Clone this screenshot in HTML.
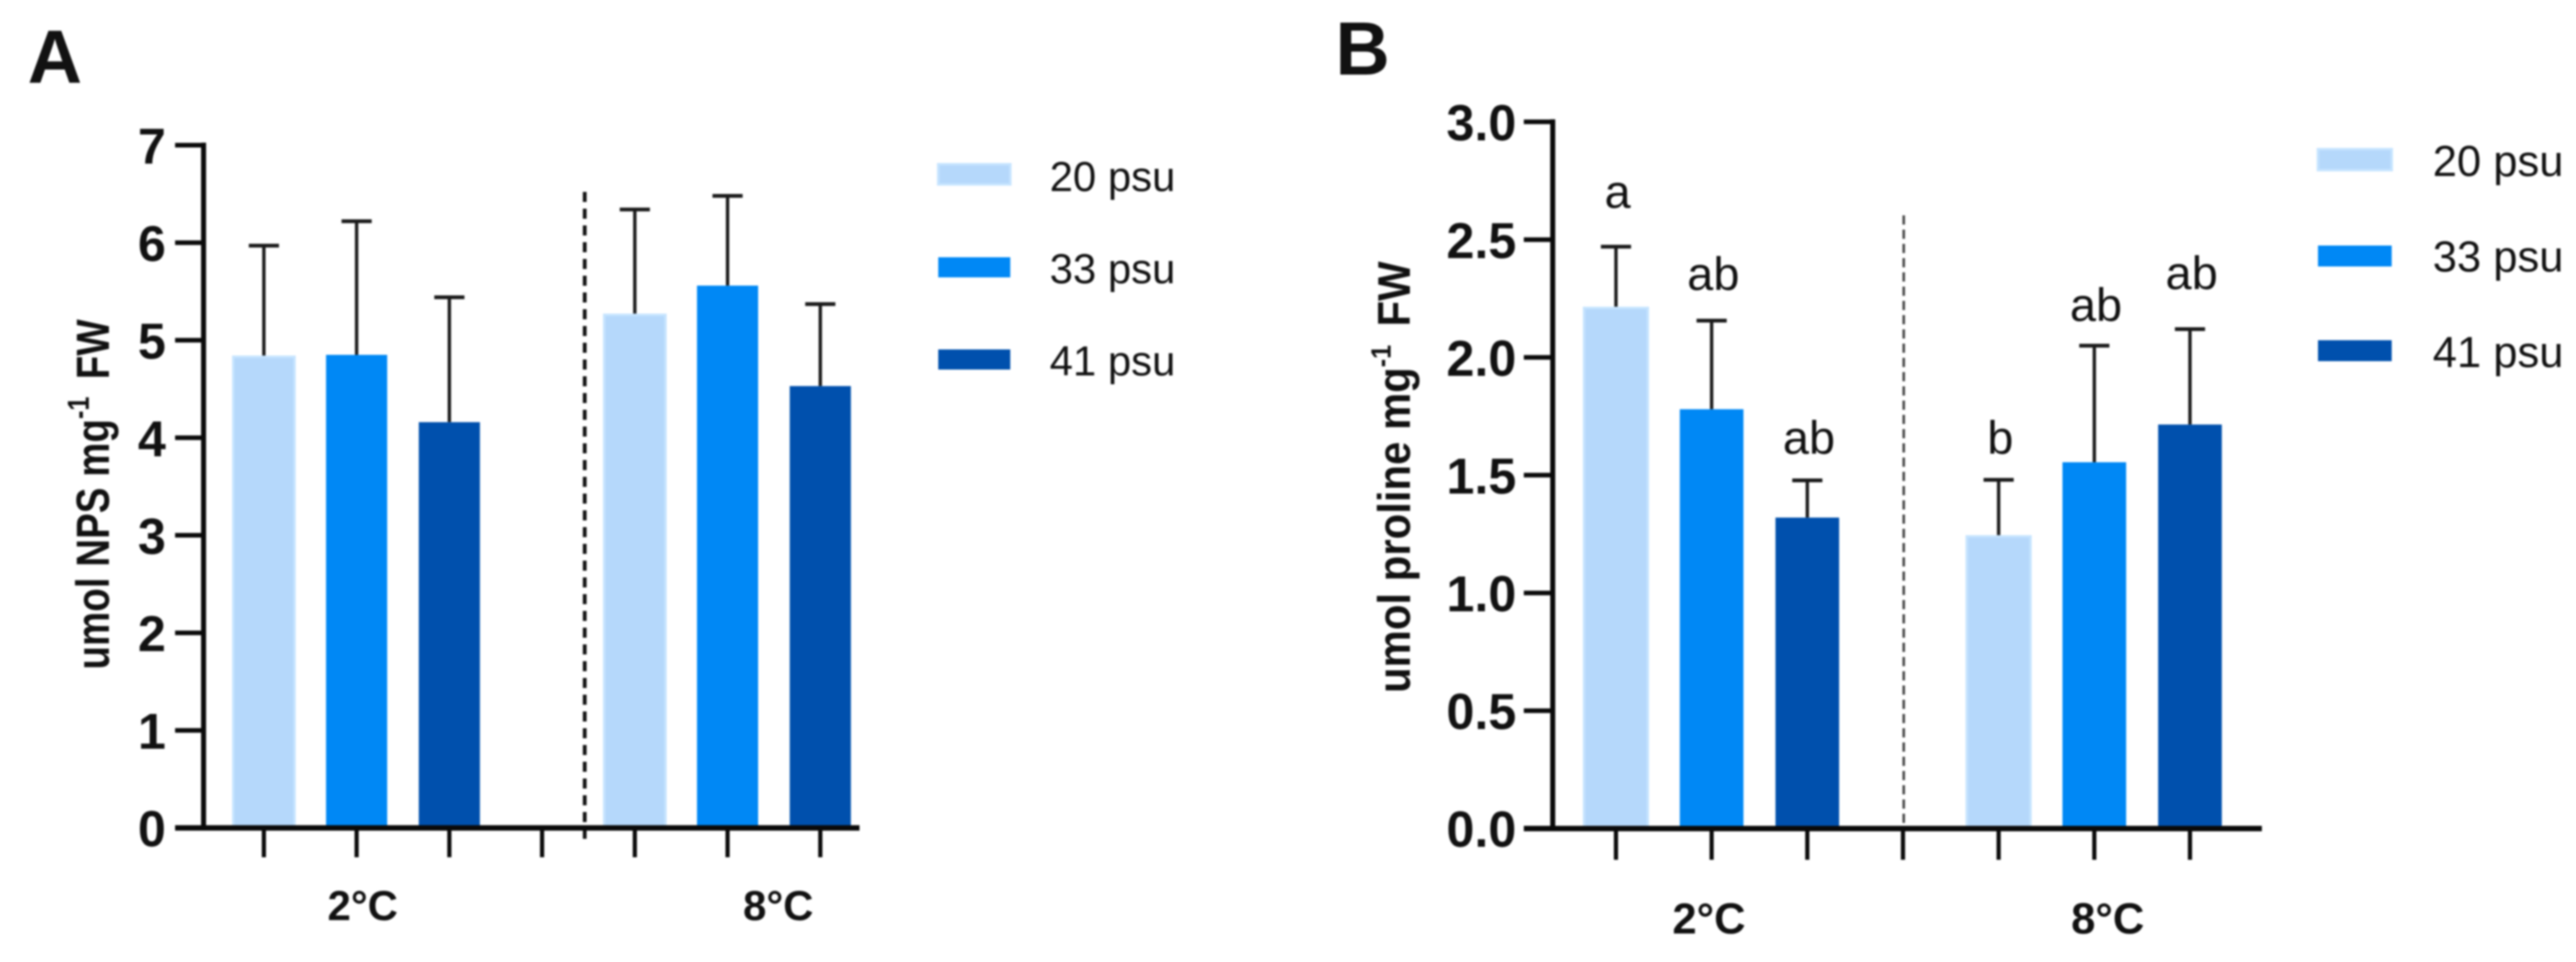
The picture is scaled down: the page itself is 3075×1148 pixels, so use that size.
<!DOCTYPE html>
<html lang="en">
<head>
<meta charset="utf-8">
<title>NPS and proline bar charts</title>
<style>
html,body{margin:0;padding:0;background:#fff;width:3075px;height:1148px;overflow:hidden}
svg{display:block;filter:blur(1px)}
text{font-family:"Liberation Sans",Arial,sans-serif;fill:#111}
</style>
</head>
<body>
<svg id="figure" xmlns="http://www.w3.org/2000/svg" width="3075" height="1148" viewBox="0 0 3075 1148"></svg>
<script>
// Shared data
const seriesNames = ['20 psu', '33 psu', '41 psu'];
const groupLabels = ['2°C', '8°C'];
const seriesColors = ['#B5D8FB', '#0088F5', '#0050AD'];

// Panel A: order is [2°C, 8°C]
const npsMeans20 = [4.83, 5.26];
const npsMeans33 = [4.85, 5.56];
const npsMeans41 = [4.16, 4.53];
const npsTops20 = [5.97, 6.34];
const npsTops33 = [6.22, 6.48];
const npsTops41 = [5.44, 5.37];
const npsTicks = ['0', '1', '2', '3', '4', '5', '6', '7'];

// Panel B: order is [2°C, 8°C]
const prolineMeans20 = [2.21, 1.24];
const prolineMeans33 = [1.78, 1.555];
const prolineMeans41 = [1.32, 1.715];
const prolineTops20 = [2.47, 1.48];
const prolineTops33 = [2.156, 2.05];
const prolineTops41 = [1.478, 2.12];
const prolineTicks = ['0.0', '0.5', '1.0', '1.5', '2.0', '2.5', '3.0'];
const prolineLetters20 = ['a', 'b'];
const prolineLetters33 = ['ab', 'ab'];
const prolineLetters41 = ['ab', 'ab'];
// Height of each significance letter, in y-axis units
const prolineLetterLevels20 = [2.635, 1.591];
const prolineLetterLevels33 = [2.287, 2.155];
const prolineLetterLevels41 = [1.591, 2.29];

const svg = document.getElementById('figure');
const NS = 'http://www.w3.org/2000/svg';

function make(tag, attrs, parent) {
  const el = document.createElementNS(NS, tag);
  for (const k in attrs) el.setAttribute(k, attrs[k]);
  parent.appendChild(el);
  return el;
}

function line(parent, x1, y1, x2, y2, w, color) {
  return make('line', {x1: x1, y1: y1, x2: x2, y2: y2, stroke: color || '#0a0a0a', 'stroke-width': w}, parent);
}

function drawPanel(p) {
  const g = make('g', {}, svg);
  
  

  const maxValue = parseFloat(p.ticks[p.ticks.length - 1]);
  const yScale = v => p.y0 - p.yTop * v / maxValue;
  const xScale = i => p.x0 + p.xStep * i;
  const slot = (groupIndex, seriesIndex) => groupIndex * 4 + seriesIndex;

  // Panel letter
  const letter = make('text', {x: p.letterX, y: p.letterY, 'font-size': 90, 'font-weight': 700}, g);
  letter.textContent = p.letter;
  
  

  // Bars and error bars
  p.means.forEach((series, s) => {
    series.forEach((value, gi) => {
      const cx = xScale(slot(gi, s));
      const top = yScale(value);
      const errTop = yScale(p.tops[s][gi]);

      const stem = line(g, cx, top, cx, errTop, 4, '#1a1a1a');
      
      
      const cap = line(g, cx - 18, errTop, cx + 18, errTop, 4.5, '#1a1a1a');
      
      

      const bar = make('rect', {x: cx - p.barW / 2, y: top, width: p.barW, height: p.y0 - top, fill: seriesColors[s]}, g);
      
      
      if (s === 0) {
        bar.setAttribute('stroke', '#C6E4FF');
        bar.setAttribute('stroke-width', 3);
      }
    });
  });

  // Significance letters
  if (p.letters) {
    p.letters.forEach((series, s) => {
      series.forEach((txt, gi) => {
        const t = make('text', {x: xScale(slot(gi, s)) + 2, y: yScale(p.letterLevels[s][gi]), 'font-size': 56, 'text-anchor': 'middle'}, g);
        t.textContent = txt;
        
        
      });
    });
  }

  // Separator
  const sep = line(g, p.sepX, p.sepTop, p.sepX, p.sepBottom, p.sepW, p.sepColor);
  sep.setAttribute('stroke-dasharray', p.sepDash);
  
  

  // Axes
  const yAxis = line(g, p.axisX, p.y0 + 3, p.axisX, p.y0 - p.yTop - 3, 6);
  
  
  const xAxis = line(g, p.tickLeft, p.y0, p.xEnd, p.y0, 6.5);
  
  

  p.ticks.forEach(label => {
    const y = yScale(parseFloat(label));
    const tick = line(g, p.tickLeft, y, p.axisX, y, 5.5);
    
    
    const t = make('text', {x: p.tickTextX, y: y + 22, 'font-size': 60, 'font-weight': 700, 'text-anchor': 'end'}, g);
    t.textContent = label;
    
    
  });

  for (let i = 0; i < 7; i++) {
    const tick = line(g, xScale(i), p.y0, xScale(i), p.tickBottom, 5);
    
    
  }

  groupLabels.forEach((label, i) => {
    const t = make('text', {x: p.groupX[i], y: p.groupY, 'font-size': p.groupFont, 'font-weight': 700, 'text-anchor': 'middle'}, g);
    t.textContent = label;
    
    
  });

  // Y title
  const title = make('text', {transform: 'translate(' + p.titleX + ' ' + p.titleY + ') rotate(-90) scale(1 ' + p.titleStretch + ')', 'font-size': p.titleSize, 'font-weight': 700}, g);
  
  
  make('tspan', {}, title).textContent = p.titleMain;
  make('tspan', {dy: -p.supRaise, 'font-size': 30}, title).textContent = '-1';
  make('tspan', {dy: p.supRaise, dx: 8}, title).textContent = ' FW';

  // Legend
  seriesNames.forEach((name, s) => {
    const sw = make('rect', {x: p.legendX, y: p.legendY[s], width: p.legendW, height: p.legendH, fill: seriesColors[s]}, g);
    
    
    if (s === 0) {
      sw.setAttribute('stroke', '#C6E4FF');
      sw.setAttribute('stroke-width', 3);
    }
    const t = make('text', {x: p.legendTextX, y: p.legendBase[s], 'font-size': p.legendFont, textLength: p.legendTextW, lengthAdjust: 'spacingAndGlyphs'}, g);
    t.textContent = name;
    
    
  });
}

drawPanel({
  id: 'nps', letter: 'A', letterX: 33, letterY: 99,
  means: [npsMeans20, npsMeans33, npsMeans41],
  tops: [npsTops20, npsTops33, npsTops41],
  ticks: npsTicks,
  y0: 988, yTop: 814.8, x0: 315, xStep: 110.7, barW: 73,
  axisX: 243, tickLeft: 209, xEnd: 1026, tickBottom: 1023, tickTextX: 198,
  sepX: 698, sepTop: 229, sepBottom: 1007, sepW: 4.5, sepColor: '#111', sepDash: '12 8',
  groupX: [433, 929], groupY: 1098, groupFont: 50,
  titleX: 130, titleY: 799, titleSize: 46, titleStretch: 1.2, supRaise: 20, titleMain: 'umol NPS mg',
  legendX: 1120, legendY: [196, 307, 417], legendW: 86, legendH: 24,
  legendTextX: 1253, legendBase: [228, 338, 448], legendFont: 50, legendTextW: 150
});

drawPanel({
  id: 'proline', letter: 'B', letterX: 1594, letterY: 89,
  means: [prolineMeans20, prolineMeans33, prolineMeans41],
  tops: [prolineTops20, prolineTops33, prolineTops41],
  letters: [prolineLetters20, prolineLetters33, prolineLetters41],
  letterLevels: [prolineLetterLevels20, prolineLetterLevels33, prolineLetterLevels41],
  ticks: prolineTicks,
  y0: 988.7, yTop: 843.3, x0: 1929, xStep: 114.2, barW: 76,
  axisX: 1853.5, tickLeft: 1819, xEnd: 2700, tickBottom: 1026, tickTextX: 1810,
  sepX: 2272.5, sepTop: 257, sepBottom: 988, sepW: 3, sepColor: '#444', sepDash: '11 6',
  groupX: [2040, 2516], groupY: 1114, groupFont: 52,
  titleX: 1683, titleY: 827, titleSize: 50, titleStretch: 1.1, supRaise: 21, titleMain: 'umol proline mg',
  legendX: 2767, legendY: [178, 293, 406], legendW: 88, legendH: 25,
  legendTextX: 2904, legendBase: [210, 324, 438], legendFont: 52, legendTextW: 156
});
</script>
</body>
</html>
